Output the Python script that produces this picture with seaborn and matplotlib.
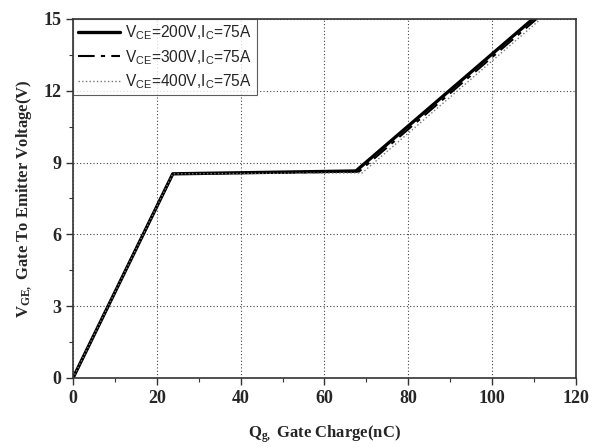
import matplotlib
matplotlib.use("Agg")
import matplotlib.pyplot as plt
import seaborn as sns
import pandas as pd
from matplotlib.ticker import MultipleLocator

# Data
labels = ["V$_{\\mathregular{CE}}$=200V,I$_{\\mathregular{C}}$=75A",
          "V$_{\\mathregular{CE}}$=300V,I$_{\\mathregular{C}}$=75A",
          "V$_{\\mathregular{CE}}$=400V,I$_{\\mathregular{C}}$=75A"]
q200 = [0, 23.8, 67.5, 109.7]
v200 = [0, 8.53, 8.65, 15.0]
q300 = [0, 23.8, 68.2, 110.6]
v300 = [0, 8.53, 8.62, 15.0]
q400 = [0, 23.8, 69.0, 111.6]
v400 = [0, 8.53, 8.57, 15.0]

xticks = [0, 20, 40, 60, 80, 100, 120]
yticks = [0, 3, 6, 9, 12, 15]

sns.set_theme(style="ticks")
plt.rcParams["font.family"] = ["Liberation Serif", "DejaVu Serif"]
plt.rcParams["mathtext.fontset"] = "custom"
plt.rcParams["mathtext.rm"] = "Liberation Sans"
plt.rcParams["mathtext.it"] = "Liberation Sans:italic"
plt.rcParams["mathtext.bf"] = "Liberation Serif:bold"

fig = plt.figure(figsize=(5.97, 4.48), dpi=100)
ax = fig.add_axes([0.1223, 0.1563, 0.8425, 0.8013])

series = [(q200, v200, labels[0], "-", 2.4, "black"),
          (q300, v300, labels[1], (0, (8, 3, 2, 3)), 1.5, "black"),
          (q400, v400, labels[2], ":", 1.0, "#777777")]
for q, v, lab, ls, lw, col in series:
    df = pd.DataFrame({"q": q, "v": v})
    sns.lineplot(data=df, x="q", y="v", ax=ax, color=col, linewidth=lw,
                 linestyle=ls, label=lab, sort=False, estimator=None)

ax.set_xlim(0, 120)
ax.set_ylim(0, 15)
ax.set_xticks(xticks)
ax.set_yticks(yticks)
ax.xaxis.set_minor_locator(MultipleLocator(10))
ax.yaxis.set_minor_locator(MultipleLocator(1.5))
ax.grid(True, which="major", color="#444444", linestyle=(0, (1, 2)), linewidth=0.8)
for lab in ax.get_xticklabels() + ax.get_yticklabels():
    lab.set_fontweight("bold")
    lab.set_fontsize(13)
ax.tick_params(which="major", direction="out", length=5, width=1, color="#333333")
ax.tick_params(which="minor", direction="out", length=3, width=0.8, color="#333333")
for s in ax.spines.values():
    s.set_color("#333333")
    s.set_linewidth(1.2)

ax.set_xlabel("Q$_{\\mathbf{g,}}$ Gate Charge(nC)", fontsize=12, fontweight="bold", labelpad=12)
ax.set_ylabel("V$_{\\mathbf{GE,}}$ Gate To Emitter Voltage(V)", fontsize=12, fontweight="bold", labelpad=6)

leg = ax.legend(loc="upper left", frameon=True, fancybox=False, borderpad=0.3,
                handlelength=2.7, handletextpad=0.35, labelspacing=0.35,
                borderaxespad=0.0, prop={"family": "Liberation Sans", "size": 11.2})
leg.get_frame().set_edgecolor("#333333")
leg.get_frame().set_linewidth(0.8)

fig.savefig("out.png", dpi=100)
